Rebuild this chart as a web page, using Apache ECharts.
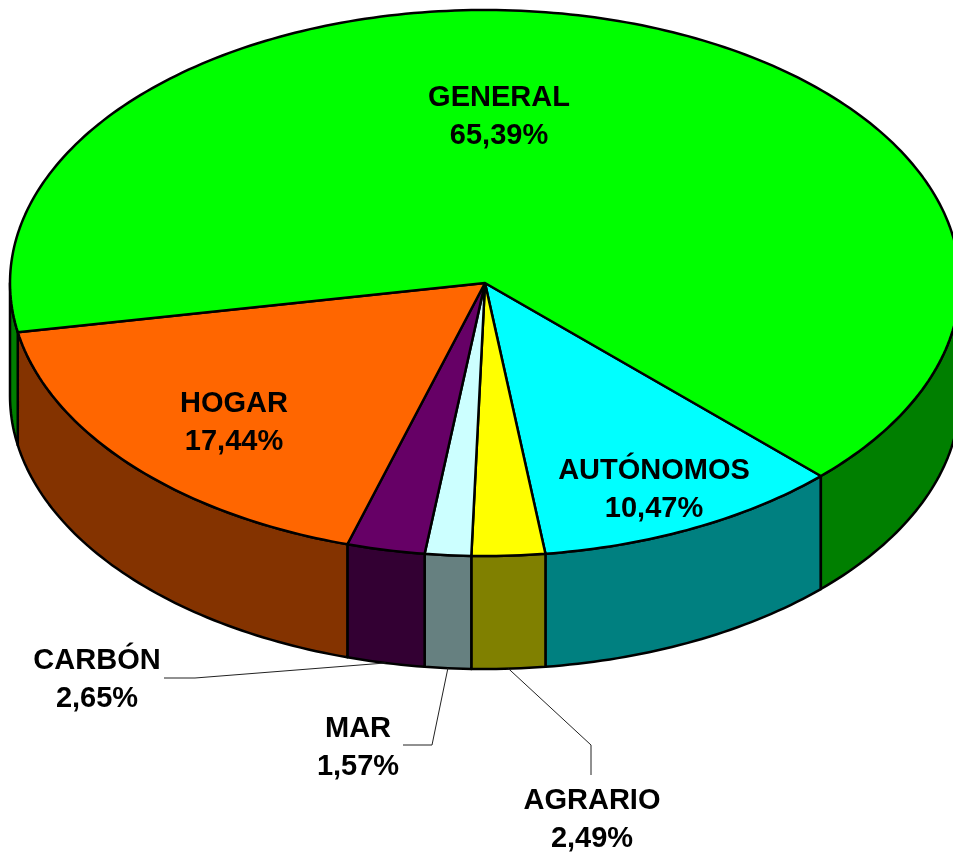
<!DOCTYPE html>
<html><head><meta charset="utf-8">
<style>html,body{margin:0;padding:0;background:#fff}#c{width:953px;height:852px}</style>
<script src="https://cdn.jsdelivr.net/npm/echarts@6/dist/echarts.min.js"></script>
</head><body><div id="c"></div>
<script>
// Data
const categories = ['AUTÓNOMOS', 'AGRARIO', 'MAR', 'CARBÓN', 'HOGAR', 'GENERAL'];
const shares = [10.47, 2.49, 1.57, 2.65, 17.44, 65.39];
// Styles
const topColors = ['#00ffff', '#ffff00', '#ccffff', '#660066', '#ff6600', '#00ff00'];
const sideColors = ['#008080', '#808000', '#668080', '#330033', '#843300', '#007f00'];
// Layout (pixels for text and elbows; ellipse geometry in axis units)
const START_DEG = 45;
const CX = 485, CY = 283, RX = 475, RY = 273, W = 953, H = 852;
const DEPTH = 113 / RY;
const labelCentres = [[654, 490], [592, 820], [358, 748], [97, 680], [234, 423], [499, 117]];
const leaderElbows = [null, [[591, 745], [591, 775]], [[432, 745], [403, 745]], [[195, 678], [164, 678]], null, null];

const total = shares.reduce((a, b) => a + b, 0);
const spans = [];
shares.reduce((from, v) => {
  const to = from + v / total * 360;
  spans.push([from, to]);
  return to;
}, START_DEG);

const rad = d => d * Math.PI / 180;
const rim = (api, deg, dz) => api.coord([Math.cos(rad(deg)), Math.sin(rad(deg)) + (dz || 0)]);
const arc = (api, a, b, dz) => {
  const out = [];
  const n = Math.max(2, Math.ceil(Math.abs(b - a)));
  for (let i = 0; i <= n; i++) out.push(rim(api, a + (b - a) * i / n, dz));
  return out;
};
const lineStyle = { stroke: '#000', lineWidth: 2.5, lineJoin: 'round' };

function renderSide(params, api) {
  const i = params.dataIndex, s = spans[i];
  const children = [];
  // The wall is visible only on the near half of the rim (0..180 and 360..540 degrees).
  [[0, 180], [360, 540]].forEach(([lo, hi]) => {
    const a = Math.max(s[0], lo), b = Math.min(s[1], hi);
    if (b <= a) return;
    const pts = arc(api, a, b, 0).concat(arc(api, b, a, DEPTH));
    children.push({
      type: 'polygon', shape: { points: pts },
      style: Object.assign({ fill: sideColors[i] }, lineStyle)
    });
  });
  return { type: 'group', children };
}

function renderTop(params, api) {
  const i = params.dataIndex, s = spans[i];
  const pts = [api.coord([0, 0])].concat(arc(api, s[0], s[1], 0));
  return {
    type: 'polygon', shape: { points: pts },
    style: Object.assign({ fill: topColors[i] }, lineStyle)
  };
}

function renderLabel(params, api) {
  const i = params.dataIndex, s = spans[i];
  const children = [];
  if (leaderElbows[i]) {
    const p = [rim(api, (s[0] + s[1]) / 2, DEPTH)].concat(leaderElbows[i]);
    children.push({
      type: 'polyline', shape: { points: p },
      style: { stroke: '#222', lineWidth: 1, fill: null }
    });
  }
  children.push({
    type: 'text',
    style: {
      x: labelCentres[i][0], y: labelCentres[i][1],
      text: categories[i] + '\n' + shares[i].toFixed(2).replace('.', ',') + '%',
      fill: '#000', align: 'center', verticalAlign: 'middle',
      font: 'bold 29px "Liberation Sans", Arial, sans-serif',
      lineHeight: 38
    }
  });
  return { type: 'group', children };
}

const seriesData = shares.map((v, i) => ({ name: categories[i], value: [0, 0, v] }));
const base = { type: 'custom', coordinateSystem: 'cartesian2d', data: seriesData, clip: false, silent: true, animation: false };

const chart = echarts.init(document.getElementById('c'), null, { renderer: 'canvas' });
chart.setOption({
  backgroundColor: '#fff',
  animation: false,
  grid: { left: 0, top: 0, width: W, height: H, containLabel: false },
  xAxis: { type: 'value', min: -CX / RX, max: (W - CX) / RX, show: false },
  yAxis: { type: 'value', min: -CY / RY, max: (H - CY) / RY, inverse: true, show: false },
  series: [
    Object.assign({}, base, { name: 'side', renderItem: renderSide, z: 1 }),
    Object.assign({}, base, { name: 'top', renderItem: renderTop, z: 2 }),
    Object.assign({}, base, { name: 'label', renderItem: renderLabel, z: 3 })
  ]
});
</script></body></html>
